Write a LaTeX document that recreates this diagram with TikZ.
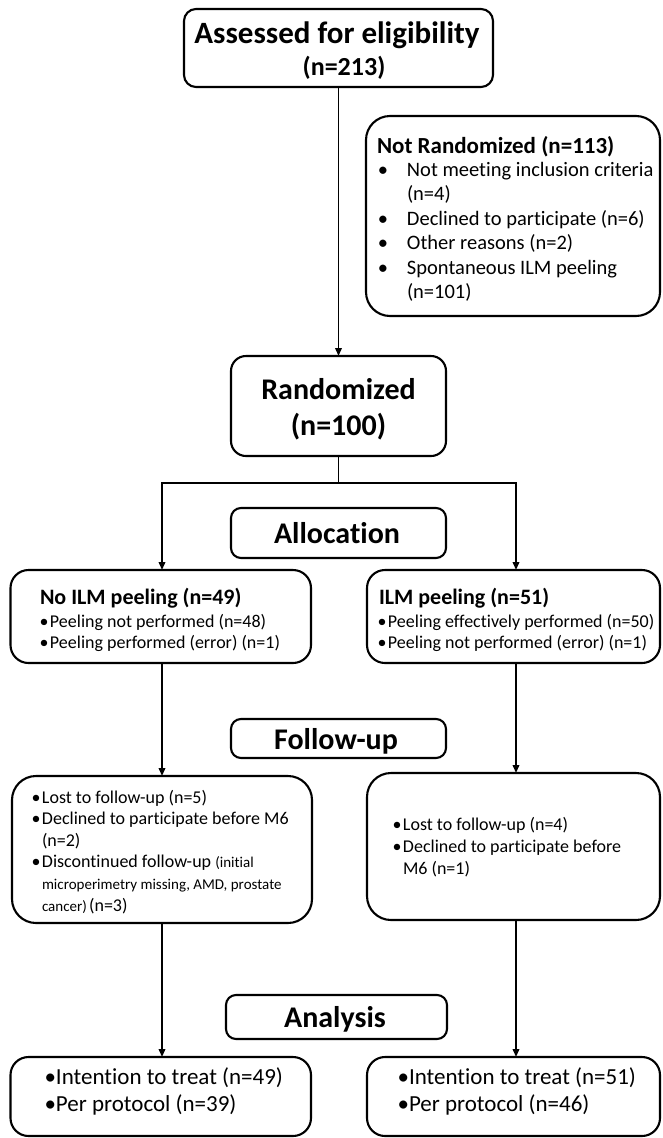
\documentclass[tikz,border=0pt]{standalone}
\usepackage{fontspec}
\setmainfont{Carlito}[Ligatures={NoCommon}]
\usetikzlibrary{arrows.meta}
\tikzset{
  box/.style={draw, line width=2.1pt, inner sep=0pt, outer sep=0pt, fill=white},
  conn/.style={line width=1.9pt},
  arr/.style={conn, -{Triangle[length=8pt,width=6.5pt]}},
  txt/.style={anchor=base west, inner sep=0pt, outer sep=0pt},
  ctxt/.style={anchor=base, inner sep=0pt, outer sep=0pt},
}
\newcommand{\fs}[1]{\fontsize{#1}{#1}\selectfont}
\newcommand{\nrb}{\llap{•\hspace{19pt}}}
\newcommand{\smb}{\llap{•\hspace{1.5pt}}}
\newcommand{\bgb}{\llap{•}}
\begin{document}
\begin{tikzpicture}[x=1pt,y=-1pt]
\useasboundingbox (0,0) rectangle (662,1138);

% ---------- boxes ----------
\node[box, rounded corners=12pt, minimum width=309pt, minimum height=78pt] (assess) at (338.5,48) {};
\node[box, rounded corners=24pt, minimum width=294pt, minimum height=200pt] (notrand) at (513,216) {};
\node[box, rounded corners=15pt, minimum width=215pt, minimum height=100pt] (rand) at (338.5,406) {};
\node[box, rounded corners=10pt, minimum width=215pt, minimum height=50pt] (alloc) at (338.5,533) {};
\node[box, rounded corners=18pt, minimum width=300.5pt, minimum height=93pt] (lbox) at (160.75,616.5) {};
\node[box, rounded corners=18pt, minimum width=293pt, minimum height=93pt] (rbox) at (513.5,616.5) {};
\node[box, rounded corners=10pt, minimum width=215pt, minimum height=39pt] (follow) at (338.5,738.5) {};
\node[box, rounded corners=24pt, minimum width=300pt, minimum height=147pt] (lfu) at (162,849.5) {};
\node[box, rounded corners=24pt, minimum width=293pt, minimum height=147pt] (rfu) at (513.5,846.5) {};
\node[box, rounded corners=10pt, minimum width=221pt, minimum height=44pt] (analysis) at (336.5,1017) {};
\node[box, rounded corners=18pt, minimum width=300.5pt, minimum height=79pt] (lbot) at (160.75,1096.5) {};
\node[box, rounded corners=18pt, minimum width=293pt, minimum height=79pt] (rbot) at (513.5,1096.5) {};

% ---------- connectors ----------
\coordinate (split) at (338.5,483);
\coordinate (rcol) at (516,570);
\coordinate (lcol) at (162,570);
\draw[arr] (assess.south) -- (rand.north);
\draw[conn] (rand.south) -- (split);
\draw[arr] (split) -| (lcol |- lbox.north);
\draw[arr] (split) -| (rcol |- rbox.north);
\draw[arr] (lcol |- lbox.south) -- (lcol |- lfu.north);
\draw[arr] (rcol |- rbox.south) -- (rcol |- rfu.north);
\draw[arr] (lcol |- lfu.south) -- (lcol |- lbot.north);
\draw[arr] (rcol |- rfu.south) -- (rcol |- rbot.north);

% ---------- texts ----------
\node[ctxt] (t-assess1) at (337,43) {\fs{31}\bfseries Assessed for eligibility};
\node[ctxt] (t-assess2) at (344,75) {\fs{26}\bfseries (n=213)};

\node[txt] (t-nr0) at (377,153) {\fs{23}\bfseries Not Randomized (n=113)};
\node[txt] (t-nr1) at (407,176) {\fs{20.5}\nrb Not meeting inclusion criteria};
\node[txt] (t-nr2) at (407,200.5) {\fs{20.5}(n=4)};
\node[txt] (t-nr3) at (407,225) {\fs{20.5}\nrb Declined to participate (n=6)};
\node[txt] (t-nr4) at (407,249.5) {\fs{20.5}\nrb Other reasons (n=2)};
\node[txt] (t-nr5) at (407,274) {\fs{20.5}\nrb Spontaneous ILM peeling};
\node[txt] (t-nr6) at (407,298.5) {\fs{20.5}(n=101)};

\node[ctxt] (t-rand1) at (338.5,399) {\fs{30}\bfseries Randomized};
\node[ctxt] (t-rand2) at (338.5,435) {\fs{30}\bfseries (n=100)};
\node[ctxt] (t-alloc) at (337,543) {\fs{30}\bfseries Allocation};

\node[txt] (t-l0) at (40,604) {\fs{22}\bfseries No ILM peeling (n=49)};
\node[txt] (t-l1) at (50,627) {\fs{18}\smb Peeling not performed (n=48)};
\node[txt] (t-l2) at (50,648) {\fs{18}\smb Peeling performed (error) (n=1)};
\node[txt] (t-r0) at (379,604) {\fs{22}\bfseries ILM peeling (n=51)};
\node[txt] (t-r1) at (388,627) {\fs{18}\smb Peeling effectively performed (n=50)};
\node[txt] (t-r2) at (388,648) {\fs{18}\smb Peeling not performed (error) (n=1)};

\node[ctxt] (t-follow) at (336,749) {\fs{30}\bfseries Follow-up};

\node[txt] (t-lf1) at (42,803) {\fs{18}\smb Lost to follow-up (n=5)};
\node[txt] (t-lf2) at (42,824.6) {\fs{18}\smb Declined to participate before M6};
\node[txt] (t-lf3) at (42,846.2) {\fs{18}(n=2)};
\node[txt] (t-lf4) at (42,867.8) {\fs{18}\smb Discontinued follow-up {\fs{15}(initial}};
\node[txt] (t-lf5) at (42,889.4) {\fs{15}microperimetry missing, AMD, prostate};
\node[txt] (t-lf6) at (42,911) {{\fs{15}cancer)} {\fs{18}(n=3)}};

\node[txt] (t-rf1) at (403,830) {\fs{18}\smb Lost to follow-up (n=4)};
\node[txt] (t-rf2) at (403,852) {\fs{18}\smb Declined to participate before};
\node[txt] (t-rf3) at (403,874) {\fs{18}M6 (n=1)};

\node[ctxt] (t-analysis) at (335,1027) {\fs{30}\bfseries Analysis};

\node[txt] (t-lb1) at (56,1084) {\fs{23}\bgb Intention to treat (n=49)};
\node[txt] (t-lb2) at (56,1111) {\fs{23}\bgb Per protocol (n=39)};
\node[txt] (t-rb1) at (409,1084) {\fs{23}\bgb Intention to treat (n=51)};
\node[txt] (t-rb2) at (409,1111) {\fs{23}\bgb Per protocol (n=46)};
\end{tikzpicture}
\end{document}
